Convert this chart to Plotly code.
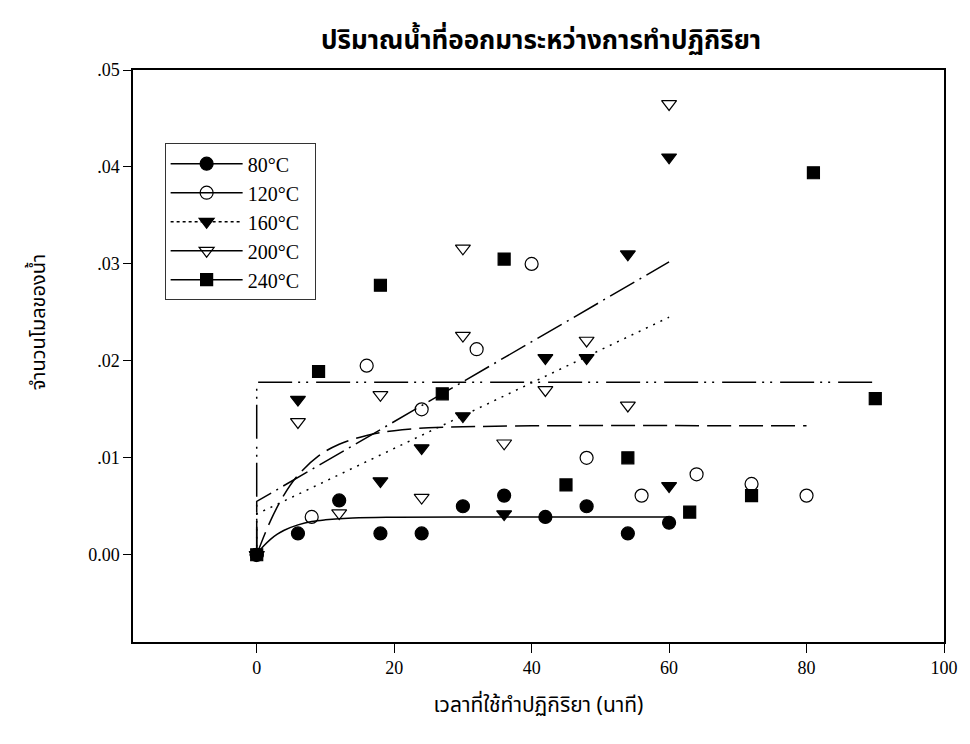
import plotly.graph_objects as go

# ---- measured data ----
x80 = [0, 6, 12, 18, 24, 30, 36, 42, 48, 54, 60]
y80 = [0, 0.0022, 0.0056, 0.0022, 0.0022, 0.0050, 0.0061, 0.0039, 0.0050, 0.0022, 0.0033]

x120 = [0, 8, 16, 24, 32, 40, 48, 56, 64, 72, 80]
y120 = [0, 0.0039, 0.0195, 0.0150, 0.0212, 0.0300, 0.0100, 0.0061, 0.0083, 0.0073, 0.0061]

x160 = [0, 6, 18, 24, 30, 36, 42, 48, 54, 60, 60]
y160 = [0, 0.0160, 0.0076, 0.0110, 0.0143, 0.0042, 0.0203, 0.0203, 0.0310, 0.0410, 0.0071]

x200 = [0, 6, 12, 18, 24, 30, 30, 36, 42, 48, 54, 60]
y200 = [0, 0.0137, 0.0043, 0.0165, 0.0059, 0.0226, 0.0316, 0.0115, 0.0170, 0.0221, 0.0154, 0.0465]

x240 = [0, 9, 18, 27, 36, 45, 54, 63, 72, 81, 90]
y240 = [0, 0.0189, 0.0278, 0.0166, 0.0305, 0.0072, 0.0100, 0.0044, 0.0061, 0.0394, 0.0161]

# ---- fitted curves ----
fx80 = [0, 1, 2, 3, 4, 6, 8, 10, 14, 20, 30, 60]
fy80 = [0, 0.00089, 0.00159, 0.00212, 0.00253, 0.00308, 0.00343, 0.00360, 0.00379, 0.00387, 0.0039, 0.0039]

fx120 = [0, 2, 4, 6, 9, 12, 16, 20, 25, 30, 40, 80]
fy120 = [0, 0.0035, 0.0062, 0.0082, 0.0102, 0.0114, 0.0123, 0.0128, 0.0131, 0.0132, 0.0133, 0.0133]

fx160 = [0, 0, 60]
fy160 = [0, 0.0042, 0.0245]

fx200 = [0, 0, 60]
fy200 = [0, 0.0055, 0.0302]

fx240 = [0, 0, 90]
fy240 = [0, 0.0178, 0.0178]

names = ["80°C", "120°C", "160°C", "200°C", "240°C"]
xtick_vals = [0, 20, 40, 60, 80, 100]
ytick_vals = [0.0, 0.01, 0.02, 0.03, 0.04, 0.05]
ytick_text = ["0.00", ".01", ".02", ".03", ".04", ".05"]

title_text = "ปริมาณน้ำที่ออกมาระหว่างการทำปฏิกิริยา"
xlabel = "เวลาที่ใช้ทำปฏิกิริยา (นาที)"
ylabel = "จำนวนโมลของน้ำ"

SERIF = "Liberation Serif, Times New Roman, serif"
THAI = "Noto Sans Thai, Loma, Garuda, Tahoma, sans-serif"

series = [
    (x80, y80, fx80, fy80, "circle", 13, "solid", "spline"),
    (x120, y120, fx120, fy120, "circle-open", 13, "24px,8px", "spline"),
    (x160, y160, fx160, fy160, "triangle-down", 13, "2px,6px", "linear"),
    (x200, y200, fx200, fy200, "triangle-down-open", 13, "28px,6px,2px,6px", "linear"),
    (x240, y240, fx240, fy240, "square", 12, "34px,6px,2px,6px,2px,8px", "linear"),
]

fig = go.Figure()
for (xs, ys, fxs, fys, sym, msize, dash, shape), nm in zip(series, names):
    fig.add_trace(go.Scatter(
        x=fxs, y=fys, mode="lines", name=nm, legendgroup=nm, showlegend=False,
        line=dict(color="black", width=1.5, dash=dash, shape=shape),
        hoverinfo="skip",
    ))
    fig.add_trace(go.Scatter(
        x=xs, y=ys, mode="markers", name=nm, legendgroup=nm, showlegend=False,
        marker=dict(symbol=sym, size=msize, color="black",
                    line=dict(color="black", width=1.2)),
    ))
    # legend entry: line + marker
    fig.add_trace(go.Scatter(
        x=[None], y=[None], mode="lines+markers", name=nm + "\u00a0\u00a0", legendgroup=nm,
        line=dict(color="black", width=1.5, dash="solid" if dash != "2px,6px" else "dot"),
        marker=dict(symbol=sym, size=msize, color="black",
                    line=dict(color="black", width=1.2)),
    ))

fig.update_layout(
    width=970, height=744,
    margin=dict(l=133, r=20, t=70, b=102),
    paper_bgcolor="white", plot_bgcolor="white",
    title=dict(text="<b>" + title_text + "</b>", x=0.5578, xanchor="center",
               y=0.946, yanchor="middle",
               font=dict(family=THAI, size=26, color="black")),
    xaxis=dict(range=[-18, 100], tickvals=xtick_vals, ticks="outside", ticklen=9,
               tickwidth=1, tickcolor="black", showgrid=False, zeroline=False,
               showline=True, linecolor="black", linewidth=1.5, mirror=True,
               tickfont=dict(family=SERIF, size=18, color="black"),
               title=dict(text=xlabel, font=dict(family=THAI, size=21, color="black"),
                          standoff=20)),
    yaxis=dict(range=[-0.009, 0.05], tickvals=ytick_vals, ticktext=ytick_text,
               ticks="outside", ticklen=8, tickwidth=1, tickcolor="black",
               showgrid=False, zeroline=False, showline=True, linecolor="black",
               linewidth=1.5, mirror=True,
               tickfont=dict(family=SERIF, size=18, color="black")),
    legend=dict(x=0.039, y=0.872, xanchor="left", yanchor="top",
                bgcolor="white", bordercolor="#333", borderwidth=1,
                font=dict(family=SERIF, size=20, color="black"),
                itemwidth=72, tracegroupgap=0),
    annotations=[dict(text=ylabel, xref="paper", yref="paper", x=-0.1163, y=0.56,
                      xanchor="center", yanchor="middle",
                      textangle=-90, showarrow=False,
                      font=dict(family=THAI, size=20, color="black"))],
)

fig.write_html("out.html", config={"displayModeBar": False},
               post_script="document.body.style.margin='0';")
